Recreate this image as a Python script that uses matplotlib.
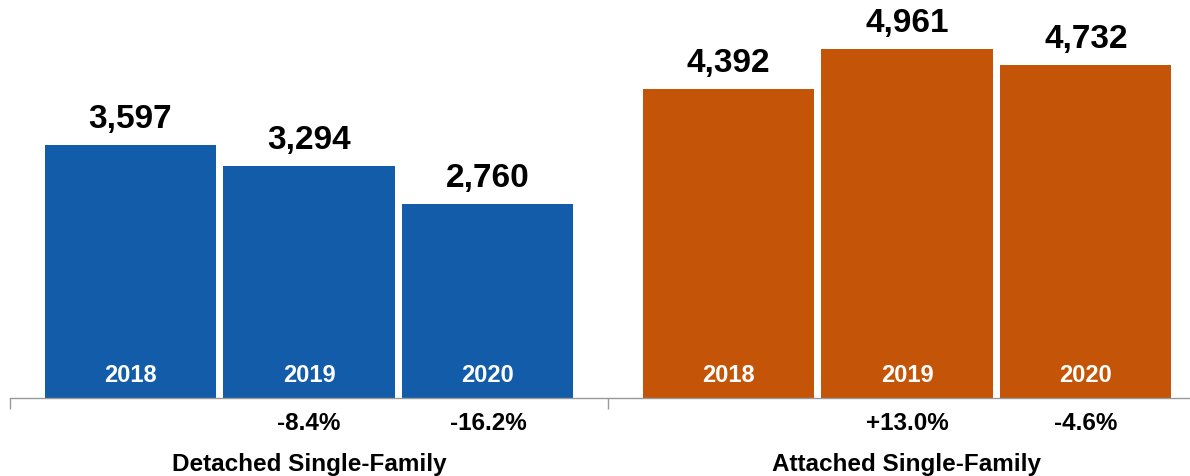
import numpy as np
import matplotlib.pyplot as plt

plt.rcParams['font.family'] = ['Liberation Sans', 'DejaVu Sans']

segments = ['Detached Single-Family', 'Attached Single-Family']
years = ['2018', '2019', '2020']
detached = [3597, 3294, 2760]
attached = [4392, 4961, 4732]
detached_chg = ['', '-8.4%', '-16.2%']
attached_chg = ['', '+13.0%', '-4.6%']

colors = ['#125CA9', '#C45508']
bar_w = 0.286
step = 0.2993

fig = plt.figure(figsize=(11.9, 4.77), dpi=100)
ax = fig.add_axes([10 / 1190, 78 / 477, 1180 / 1190, 399 / 477])

for g, (vals, chg) in enumerate([(detached, detached_chg), (attached, attached_chg)]):
    xs = g + (np.arange(len(years)) - 1) * step
    ax.bar(xs, vals, width=bar_w, color=colors[g])
    for x, v, yr, c in zip(xs, vals, years, chg):
        ax.annotate(f'{v:,}', (x, v), xytext=(0, 8), textcoords='offset points',
                    ha='center', va='bottom', fontsize=24, fontweight='bold')
        ax.annotate(yr, (x, 0), xytext=(0, 17), textcoords='offset points',
                    ha='center', va='center', fontsize=17, fontweight='bold', color='white')
        ax.annotate(c, (x, 0), xytext=(0, -18), textcoords='offset points',
                    ha='center', va='center', fontsize=17.5, fontweight='bold')
    ax.annotate(segments[g], (g, 0), xytext=(0, -47), textcoords='offset points',
                ha='center', va='center', fontsize=17.5, fontweight='bold')

# group separators on the baseline
ax.set_xticks([-0.5, 0.5, 1.5])
ax.set_xticklabels([])
ax.tick_params(axis='x', direction='out', length=8, color='#999999', width=1)
ax.set_xlim(-0.5, -0.5 + 1180 / 598)
ax.set_ylim(0, 5666)

for s in ['top', 'right', 'left']:
    ax.spines[s].set_visible(False)
ax.spines['bottom'].set_color('#999999')
ax.spines['bottom'].set_linewidth(1)
ax.set_yticks([])

fig.savefig('out.png', dpi=100)
